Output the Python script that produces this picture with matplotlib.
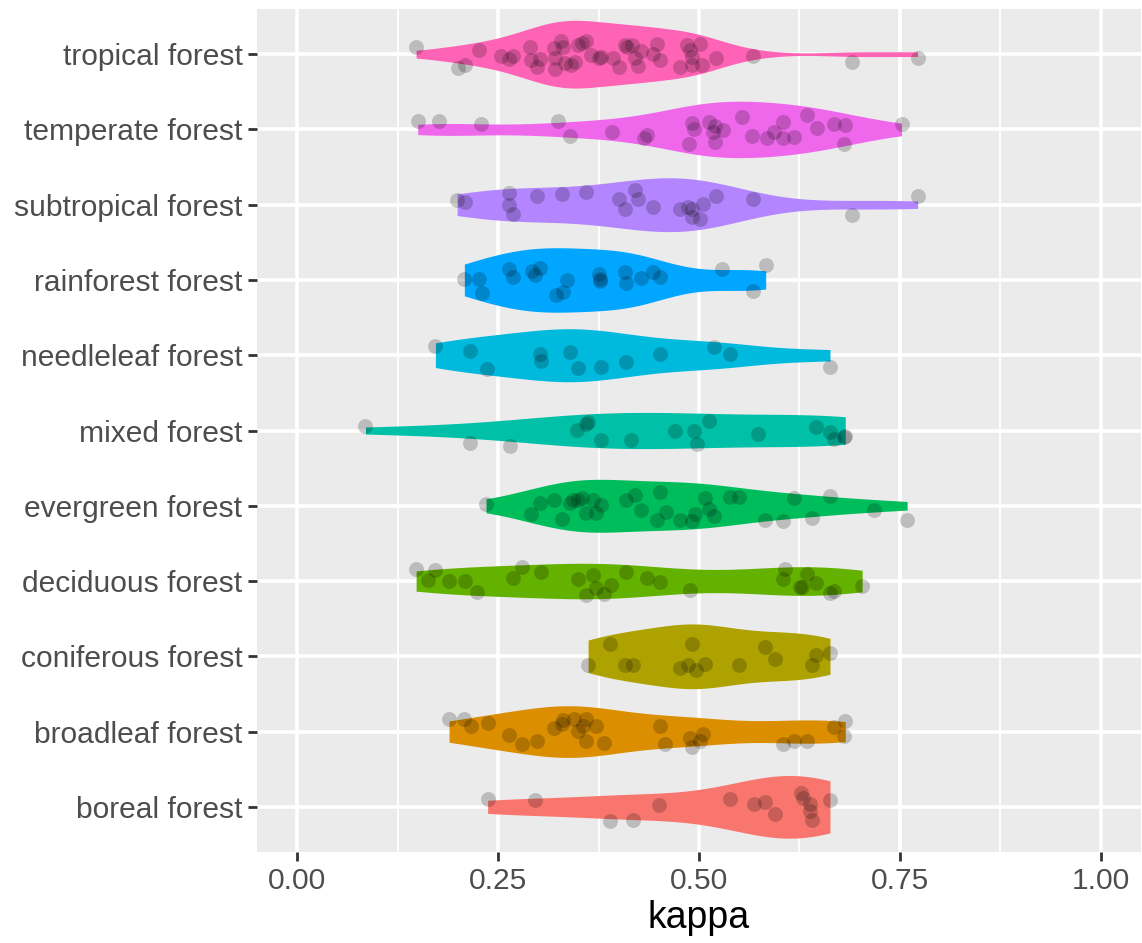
import numpy as np
import matplotlib.pyplot as plt

plt.rcParams['font.family'] = ['Liberation Sans', 'DejaVu Sans']

categories = ['boreal forest', 'broadleaf forest', 'coniferous forest', 'deciduous forest',
              'evergreen forest', 'mixed forest', 'needleleaf forest', 'rainforest forest',
              'subtropical forest', 'temperate forest', 'tropical forest']
colors = ['#F8766D', '#DB8E00', '#AEA200', '#64B200', '#00BD5C', '#00C1A7',
          '#00BADE', '#00A6FF', '#B385FF', '#EF67EB', '#FF63B6']

# kappa values per forest type, and the vertical jitter of each point (category units)
boreal_kappa = [0.237, 0.296, 0.389, 0.418, 0.450, 0.538, 0.569, 0.582, 0.595, 0.627,
                0.629, 0.638, 0.638, 0.640, 0.663]
boreal_jit = [0.10, 0.09, -0.19, -0.17, 0.03, 0.10, 0.04, 0.06, -0.09, 0.19,
              0.12, 0.04, -0.06, -0.17, 0.09]

broadleaf_kappa = [0.189, 0.208, 0.216, 0.237, 0.263, 0.280, 0.298, 0.319, 0.329, 0.331,
                   0.344, 0.349, 0.356, 0.360, 0.360, 0.372, 0.382, 0.452, 0.458, 0.489,
                   0.491, 0.501, 0.505, 0.604, 0.618, 0.634, 0.668, 0.682, 0.681]
broadleaf_jit = [0.17, 0.17, 0.08, 0.12, -0.04, -0.17, -0.12, 0.05, 0.10, 0.15,
                 0.17, 0.01, 0.07, 0.17, -0.12, 0.08, -0.15, 0.08, -0.17, -0.08,
                 -0.20, -0.13, -0.03, -0.16, -0.12, -0.12, 0.06, 0.14, -0.06]

coniferous_kappa = [0.362, 0.389, 0.408, 0.418, 0.476, 0.486, 0.491, 0.496, 0.508, 0.550,
                    0.582, 0.594, 0.640, 0.646, 0.663]
coniferous_jit = [-0.12, 0.16, -0.11, -0.12, -0.16, -0.11, 0.16, -0.18, -0.10, -0.12,
                  0.12, -0.03, -0.12, 0.02, 0.04]

deciduous_kappa = [0.148, 0.163, 0.172, 0.189, 0.209, 0.224, 0.268, 0.280, 0.303, 0.349,
                   0.359, 0.368, 0.372, 0.382, 0.390, 0.409, 0.435, 0.452, 0.489, 0.604,
                   0.607, 0.626, 0.628, 0.634, 0.646, 0.663, 0.668, 0.703]
deciduous_jit = [0.16, 0.02, 0.15, 0.00, 0.00, -0.14, 0.04, 0.18, 0.12, 0.03,
                 -0.19, 0.08, -0.09, -0.17, -0.05, 0.12, 0.04, -0.01, -0.12, 0.03,
                 0.16, -0.08, -0.08, 0.10, -0.03, -0.16, -0.13, -0.07]

evergreen_kappa = [0.235, 0.291, 0.302, 0.319, 0.329, 0.340, 0.343, 0.349, 0.354, 0.359,
                   0.368, 0.372, 0.378, 0.409, 0.420, 0.428, 0.448, 0.452, 0.459, 0.476,
                   0.491, 0.495, 0.508, 0.513, 0.519, 0.538, 0.550, 0.582, 0.604, 0.618,
                   0.640, 0.663, 0.718, 0.759]
evergreen_jit = [0.02, -0.11, 0.04, 0.08, -0.18, 0.04, 0.08, 0.07, 0.10, -0.09,
                 0.07, -0.10, 0.01, 0.07, 0.14, -0.06, -0.19, 0.18, -0.08, -0.19,
                 -0.20, -0.11, 0.10, -0.04, -0.14, 0.12, 0.11, -0.19, -0.20, 0.10,
                 -0.16, 0.13, -0.06, -0.19]

mixed_kappa = [0.085, 0.215, 0.265, 0.348, 0.359, 0.362, 0.378, 0.415, 0.470, 0.494,
               0.497, 0.513, 0.573, 0.646, 0.663, 0.668, 0.680, 0.682]
mixed_jit = [0.06, -0.16, -0.20, 0.01, 0.09, 0.11, -0.13, -0.13, 0.00, 0.00,
             -0.18, 0.12, -0.04, 0.04, -0.02, -0.11, -0.08, -0.07]

needleleaf_kappa = [0.172, 0.215, 0.236, 0.302, 0.303, 0.340, 0.350, 0.378, 0.409, 0.452,
                    0.519, 0.538, 0.663]
needleleaf_jit = [0.12, 0.06, -0.18, 0.02, -0.07, 0.04, -0.17, -0.16, -0.09, 0.02,
                  0.11, 0.01, -0.16]

rainforest_kappa = [0.208, 0.226, 0.230, 0.264, 0.269, 0.292, 0.302, 0.296, 0.322, 0.331,
                    0.336, 0.376, 0.377, 0.377, 0.408, 0.409, 0.428, 0.443, 0.452, 0.529,
                    0.567, 0.583]
rainforest_jit = [0.01, 0.01, -0.17, 0.14, 0.04, 0.12, 0.16, 0.06, -0.20, -0.16,
                  0.00, 0.08, 0.01, -0.01, 0.11, -0.04, 0.03, 0.11, 0.04, 0.15,
                  -0.15, 0.20]

subtropical_kappa = [0.199, 0.209, 0.264, 0.263, 0.268, 0.298, 0.330, 0.359, 0.400, 0.420,
                     0.424, 0.408, 0.443, 0.476, 0.486, 0.491, 0.491, 0.501, 0.505, 0.521,
                     0.567, 0.691, 0.772]
subtropical_jit = [0.06, 0.04, 0.16, 0.00, -0.12, 0.12, 0.14, 0.17, 0.08, 0.19,
                   0.07, -0.06, -0.03, -0.06, -0.03, -0.06, -0.16, -0.19, 0.01, 0.12,
                   0.08, -0.14, 0.11]

temperate_kappa = [0.150, 0.177, 0.229, 0.324, 0.340, 0.392, 0.431, 0.435, 0.487, 0.491,
                   0.494, 0.512, 0.517, 0.520, 0.530, 0.520, 0.553, 0.566, 0.584, 0.593,
                   0.604, 0.605, 0.618, 0.634, 0.647, 0.668, 0.682, 0.681, 0.752]
temperate_jit = [0.11, 0.11, 0.07, 0.11, -0.09, -0.04, -0.11, -0.08, -0.19, 0.08,
                 0.00, 0.10, -0.03, 0.05, -0.01, -0.17, 0.16, -0.09, -0.12, -0.03,
                 0.10, -0.12, -0.10, 0.19, 0.02, 0.07, 0.06, -0.19, 0.07]

tropical_kappa = [0.148, 0.200, 0.209, 0.226, 0.254, 0.263, 0.269, 0.290, 0.291, 0.298,
                  0.302, 0.320, 0.321, 0.328, 0.331, 0.333, 0.341, 0.346, 0.321, 0.349,
                  0.355, 0.359, 0.365, 0.375, 0.378, 0.393, 0.400, 0.408, 0.411, 0.417,
                  0.420, 0.424, 0.428, 0.443, 0.448, 0.451, 0.476, 0.485, 0.489, 0.491,
                  0.491, 0.501, 0.504, 0.521, 0.567, 0.691, 0.772]
tropical_jit = [0.10, -0.18, -0.15, 0.06, -0.02, -0.06, -0.03, 0.10, -0.08, -0.17,
                -0.06, 0.08, -0.20, 0.18, 0.10, -0.12, -0.14, -0.10, -0.05, 0.12,
                0.15, 0.18, -0.01, -0.05, -0.04, -0.05, -0.17, 0.12, 0.09, 0.12,
                -0.05, -0.16, 0.04, 0.00, 0.14, -0.08, -0.17, 0.12, 0.05, -0.04,
                -0.15, 0.14, -0.15, -0.05, -0.02, -0.11, -0.05]

kappas = [boreal_kappa, broadleaf_kappa, coniferous_kappa, deciduous_kappa, evergreen_kappa,
          mixed_kappa, needleleaf_kappa, rainforest_kappa, subtropical_kappa,
          temperate_kappa, tropical_kappa]
jits = [boreal_jit, broadleaf_jit, coniferous_jit, deciduous_jit, evergreen_jit,
        mixed_jit, needleleaf_jit, rainforest_jit, subtropical_jit, temperate_jit,
        tropical_jit]
xticks = [0.0, 0.25, 0.5, 0.75, 1.0]
xticklabels = ['0.00', '0.25', '0.50', '0.75', '1.00']


def bw_nrd0(x):
    sd = np.std(x, ddof=1)
    iqr = np.subtract(*np.percentile(x, [75, 25]))
    lo = min(sd, iqr / 1.34) if iqr > 0 else sd
    return 0.9 * lo * len(x) ** -0.2


# density of each group, like stat_ydensity (trimmed to data range)
grids = []
dens = []
for k in kappas:
    k = np.asarray(k)
    g = np.linspace(k.min(), k.max(), 512)
    bw = bw_nrd0(k)
    d = np.exp(-0.5 * ((g[:, None] - k[None, :]) / bw) ** 2).sum(axis=1) / (len(k) * bw * np.sqrt(2 * np.pi))
    grids.append(g)
    dens.append(d)
dmax = max(d.max() for d in dens)

fig = plt.figure(figsize=(11.42, 9.43), dpi=100)
ax = fig.add_axes([257 / 1142, 1 - 852 / 943, 884 / 1142, 843 / 943])
ax.set_facecolor('#EBEBEB')

for i, (g, d) in enumerate(zip(grids, dens)):
    half = 0.45 * d / dmax
    ax.fill_between(g, i - half, i + half, color=colors[i], lw=0, zorder=2)

for i, (k, j) in enumerate(zip(kappas, jits)):
    ax.scatter(k, i + np.asarray(j), s=115, color='black', alpha=0.2, lw=0, zorder=3)

ax.set_xlim(-0.05, 1.05)
ax.set_ylim(-0.6, len(categories) - 0.4)
ax.set_xticks(xticks)
ax.set_xticklabels(xticklabels)
ax.set_xticks([0.125, 0.375, 0.625, 0.875], minor=True)
ax.set_yticks(range(len(categories)))
ax.set_yticklabels(categories)
ax.grid(which='major', color='white', lw=2.6)
ax.grid(which='minor', axis='x', color='white', lw=1.3)
ax.set_axisbelow(True)
for s in ax.spines.values():
    s.set_visible(False)
ax.tick_params(which='major', length=6.5, width=2.0, color='#333333',
               labelsize=21.6, labelcolor='#4D4D4D', pad=4)
ax.tick_params(which='minor', length=0)
ax.set_xlabel('kappa', fontsize=27, color='black', labelpad=4)

plt.savefig('out.png', dpi=100)
